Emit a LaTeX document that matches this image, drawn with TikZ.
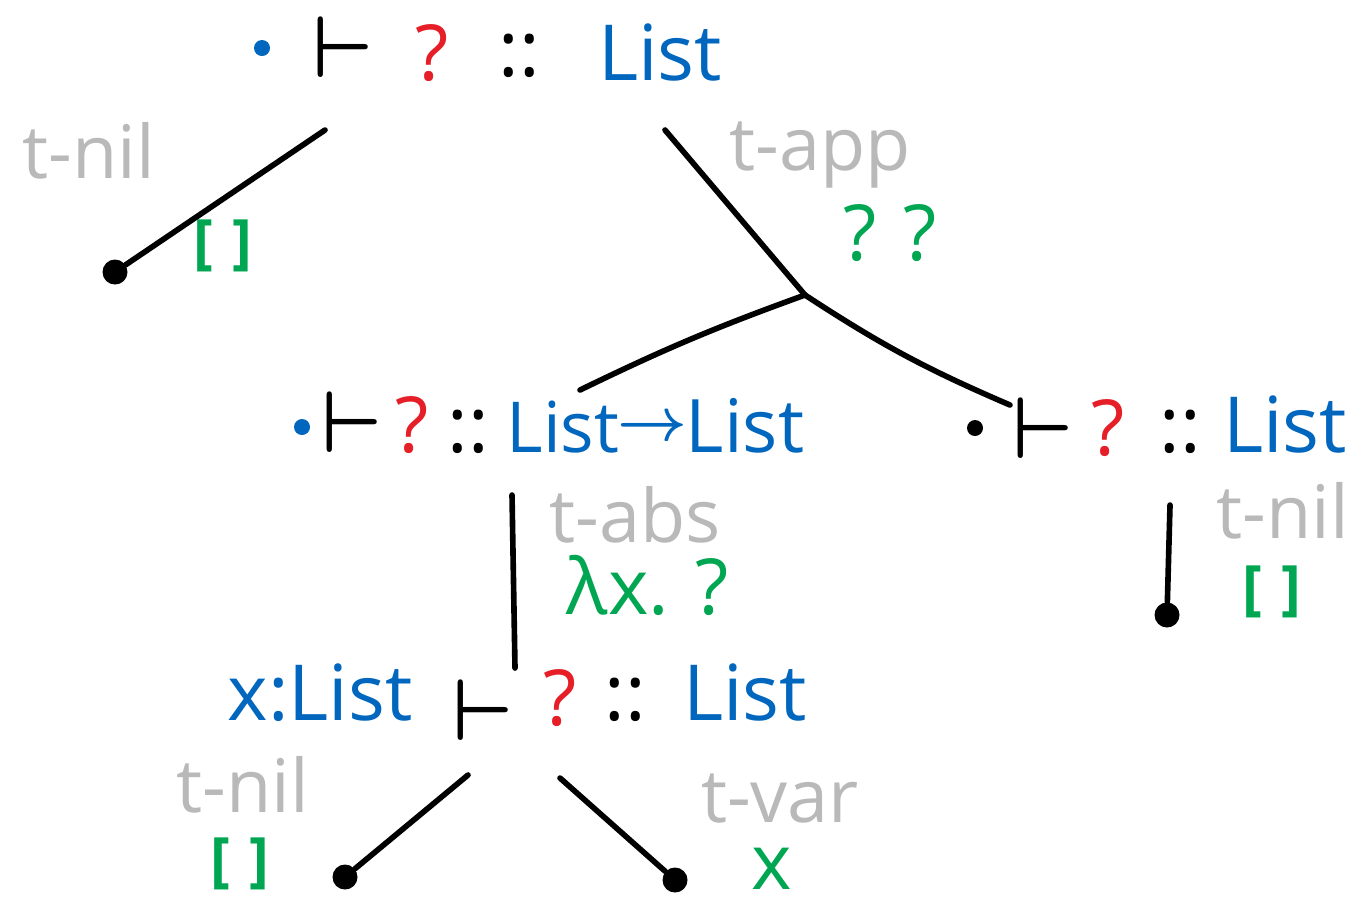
\documentclass[tikz,border=0pt]{standalone}
\usepackage{fontspec}
\setmainfont{Open Sans}
\usetikzlibrary{positioning}

\definecolor{tyblue}{RGB}{0,102,190}
\definecolor{holered}{RGB}{230,30,40}
\definecolor{termgreen}{RGB}{0,166,81}
\definecolor{rulegray}{RGB}{185,185,185}

\begin{document}
\begin{tikzpicture}[
    x=0.1mm, y=-0.1mm,
    every node/.style={font=\fontsize{22}{26}\selectfont, inner sep=0pt, anchor=base},
    ty/.style={text=tyblue},
    hole/.style={text=holered},
    tm/.style={text=termgreen},
    nil/.style={text=termgreen, font=\fontsize{17}{19}\selectfont\bfseries},
    turn/.style={font=\fontsize{28}{32}\selectfont\boldmath},
    rule/.style={text=rulegray, font=\fontsize{21}{25}\selectfont},
    ctx/.style={circle, fill=#1, anchor=center, minimum size=1.6mm},
    branch/.style={line width=1.6pt, line cap=round},
    leaf/.style={circle, fill=black, anchor=center, minimum size=2.5mm}
]
\useasboundingbox (0,0) rectangle (1368,896);

% goal at the root
\node[ctx=tyblue] (c0) at (262,48) {};
\node[turn] (t0)  at (343,77) {$\vdash$};
\node[hole] (h0)  at (432,80) {?};
\node       (cc0) at (519,76) {::};
\node[ty]   (l0)  at (660,80) {List};

% function goal
\node[ctx=tyblue] (c1) at (302,427) {};
\node[turn] (t1)  at (352,452) {$\vdash$};
\node[hole] (h1)  at (412,452) {?};
\node       (cc1) at (468,452) {::};
\node[ty, font=\fontsize{20}{24}\selectfont] (l1) at (563,452) {List};
\node[ty, font=\fontsize{16}{18}\selectfont\boldmath] (ar1) at (652,440) {$\rightarrow$};
\node[ty, font=\fontsize{21}{24}\selectfont] (r1) at (745,452) {List};

% argument goal
\node[ctx=black] (c2) at (975,428) {};
\node[turn] (t2)  at (1043,458) {$\vdash$};
\node[hole] (h2)  at (1108,455) {?};
\node       (cc2) at (1180,452) {::};
\node[ty]   (l2)  at (1285,452) {List};

% body under the binder
\node[ty]   (x3)  at (320,720) {x:List};
\node[turn] (t3)  at (483,740) {$\vdash$};
\node[hole] (h3)  at (560,725) {?};
\node       (cc3) at (625,720) {::};
\node[ty]   (l3)  at (745,720) {List};

% rule names and the terms they build
\node[rule] (nilA) at (89,178)   {t-nil};
\node[nil]  (emA)  at (223,262)  {[\,\,]};
\node[rule] (app)  at (820,170)  {t-app};
\node[tm]   (hh)   at (890,260)  {? ?};
\node[rule] (abs)  at (635,542)  {t-abs};
\node[tm]   (lam)  at (648,614)  {λx. ?};
\node[rule] (nilB) at (1283,538) {t-nil};
\node[nil]  (emB)  at (1272,608) {[\,\,]};
\node[rule] (nilC) at (243,812)  {t-nil};
\node[nil]  (emC)  at (240,880)  {[\,\,]};
\node[rule] (var)  at (780,822)  {t-var};
\node[tm]   (xv)   at (772,889)  {x};

% branches
\coordinate (a0) at (325,130);
\node[leaf] (dA) at (115,272) {};
\draw[branch] (a0) -- (dA);

\coordinate (b0) at (665,130);
\coordinate (fork) at (805,295);
\coordinate (b1) at (580,390);
\coordinate (b2) at (1010,405);
\draw[branch] (b0) -- (fork);
\draw[branch] (b1) to[bend left=3] (fork);
\draw[branch] (fork) to[bend right=5] (b2);

\coordinate (v0) at (512,495);
\coordinate (v1) at (515,668);
\draw[branch] (v0) -- (v1);

\coordinate (w0) at (1170,505);
\node[leaf] (dB) at (1167,615) {};
\draw[branch] (w0) -- (dB);

\coordinate (p0) at (468,775);
\node[leaf] (dC) at (345,877) {};
\draw[branch] (p0) -- (dC);

\coordinate (q0) at (560,778);
\node[leaf] (dD) at (675,880) {};
\draw[branch] (q0) -- (dD);

\end{tikzpicture}
\end{document}
